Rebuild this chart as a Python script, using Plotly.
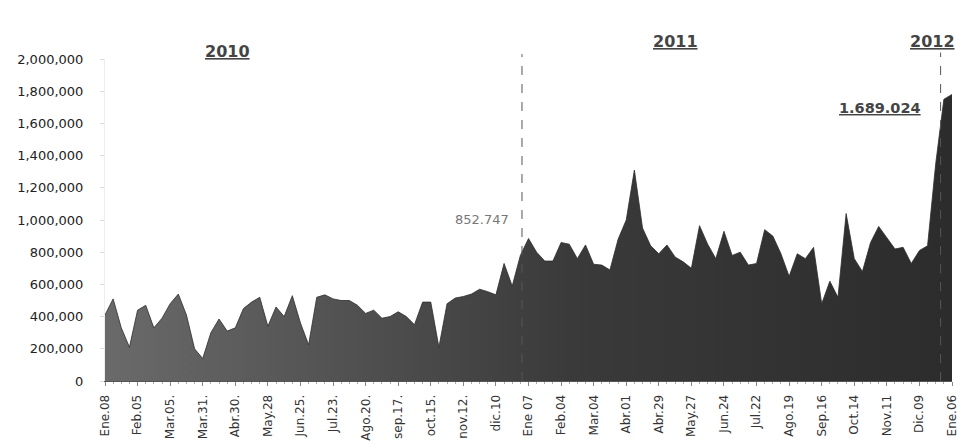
import plotly.graph_objects as go

# Weekly values (thousands), Ene.08 2010 .. Ene.06 2012
values_k = [410, 510, 330, 210, 440, 470, 330, 390, 480, 540,
            410, 200, 140, 300, 385, 310, 330, 450, 490, 520,
            340, 460, 400, 530, 360, 225, 520, 535, 510, 500,
            500, 470, 420, 440, 390, 400, 430, 400, 350, 490,
            490, 210, 480, 515, 525, 540, 570, 555, 535, 730,
            590, 780, 885, 800, 745, 745, 860, 850, 760, 845,
            725, 720, 690, 880, 1000, 1310, 950, 840, 790, 845,
            770, 740, 700, 965, 850, 760, 930, 780, 800, 720,
            730, 940, 900, 790, 650, 790, 760, 830, 480, 620,
            520, 1040, 760, 680, 860, 960, 890, 820, 830, 730,
            810, 840, 1350, 1750, 1780]
values = [v * 1000 for v in values_k]
weeks = list(range(len(values)))

tick_labels = ["Ene.08", "Feb.05", "Mar.05.", "Mar.31.", "Abr.30.", "May.28",
               "Jun.25.", "Jul.23.", "Ago.20.", "sep.17.", "oct.15.", "nov.12.",
               "dic.10", "Ene 07", "Feb.04", "Mar.04", "Abr.01", "Abr.29",
               "May.27", "Jun.24", "Jul.22", "Ago.19", "Sep.16", "Oct.14",
               "Nov.11", "Dic.09", "Ene.06"]
tick_step = 4
tick_vals = [i * tick_step for i in range(len(tick_labels))]

year_labels = ["2010", "2011", "2012"]
year_label_x = [15.1, 70.0, 101.6]
year_label_y = [1.06, 1.09, 1.09]

marker_x = [51.2, 102.6]
label_2011 = "852.747"
label_2012 = "1.689.024"

FONT = "DejaVu Sans"

fig = go.Figure()
fig.add_trace(go.Scatter(
    x=weeks, y=values, mode="lines", fill="tozeroy",
    line=dict(color="#2c2c2c", width=0.8),
    fillgradient=dict(type="horizontal",
                      colorscale=[[0, "#6a6a6a"], [0.3, "#505050"], [0.55, "#3a3a3a"], [1, "#2c2c2c"]]),
    hoverinfo="skip", showlegend=False,
))

for xm, y1 in zip(marker_x, [1.015, 1.02]):
    fig.add_shape(type="line", xref="x", yref="paper", x0=xm, x1=xm, y0=0, y1=y1,
                  line=dict(color="#555", width=1, dash="dash"))

for t, xx, yy in zip(year_labels, year_label_x, year_label_y):
    fig.add_annotation(text="<b><u>%s</u></b>" % t, x=xx, y=yy, xref="x", yref="paper",
                       showarrow=False, font=dict(family=FONT, size=16, color="#444"))

fig.add_annotation(text=label_2011, x=46.3, y=1005000, xref="x", yref="y", showarrow=False,
                   font=dict(family=FONT, size=13, color="#777"))
fig.add_annotation(text="<b><u>%s</u></b>" % label_2012, x=95.2, y=0.879, xref="x", yref="paper",
                   showarrow=False, font=dict(family=FONT, size=14.5, color="#444"))

# page body has an 8px margin, so the figure is sized/offset to compensate
fig.update_layout(
    width=958, height=439,
    margin=dict(l=97, r=14, t=51, b=66),
    paper_bgcolor="white", plot_bgcolor="white",
    font=dict(family=FONT, color="#222"),
)
fig.update_xaxes(
    automargin=False,
    range=[0, 104], tickmode="array", tickvals=tick_vals, ticktext=tick_labels,
    tickangle=-90, tickfont=dict(size=12, color="#333"),
    showgrid=False, zeroline=False, showline=True, linecolor="#555", linewidth=1,
    ticks="outside", ticklen=4, tickcolor="#888", ticklabelstandoff=4,
    minor=dict(dtick=1, ticks="outside", ticklen=2, tickcolor="#aaa"),
)
fig.update_yaxes(
    automargin=False,
    range=[0, 2000000], dtick=200000, tickformat=",",
    tickfont=dict(size=13, color="#222"),
    showgrid=False, zeroline=False, showline=True, linecolor="#eee",
    ticks="outside", ticklen=4, tickcolor="#ddd", ticklabelstandoff=14,
)

fig.write_html("out.html")
